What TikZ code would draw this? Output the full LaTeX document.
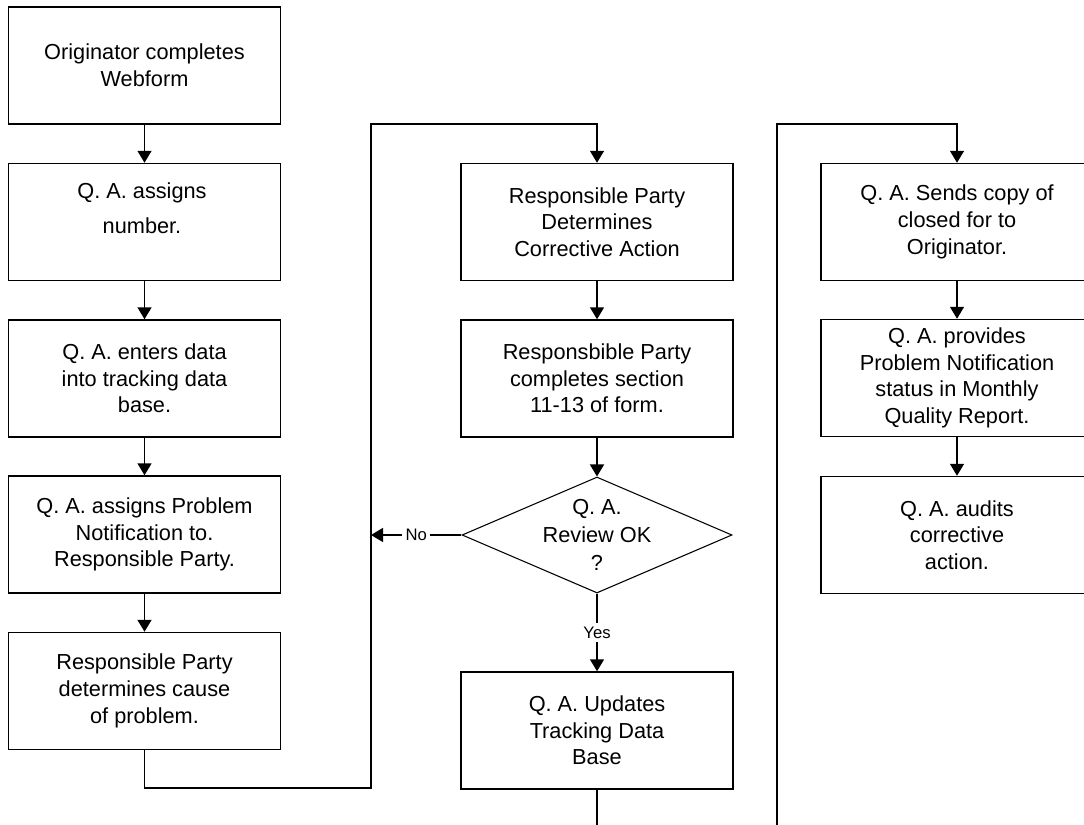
\documentclass[tikz,border=0pt]{standalone}
\usepackage{fontspec}
\setmainfont{Liberation Sans}
\usetikzlibrary{shapes.geometric,arrows.meta}
\tikzset{
  box/.style={draw, line width=1.1pt, minimum width=204pt, minimum height=87.75pt,
    inner sep=0pt, align=center, font=\fontsize{16.3}{20}\selectfont},
  txt/.style={inner sep=0pt, align=center},
  dia/.style={draw, line width=0.8pt, shape=diamond, minimum width=202.5pt,
    minimum height=87pt, inner sep=0pt},
  arr/.style={line width=1.1pt, line join=miter, -{Triangle[width=10.5pt,length=9pt]}},
  conn/.style={line width=1.1pt, line join=miter},
  lbl/.style={fill=white, inner sep=2.5pt, font=\fontsize{12.5}{15}\selectfont}
}
\begin{document}
\begin{tikzpicture}[x=0.75pt,y=-0.75pt]
\useasboundingbox (0,0) rectangle (1084,824);
\clip (0,0) rectangle (1084,824);

% left column
\node[box] (b1) at (144.5,65.5) {Originator completes\\Webform};
\node[box] (b2) at (144.5,222) {};
\node[txt, font=\fontsize{16.3}{26.5}\selectfont] (b2t) at (142,208) {Q. A. assigns\\number.};
\node[box] (b3) at (144.5,378.5) {Q. A. enters data\\into tracking data\\base.};
\node[box] (b4) at (144.5,534.5) {Q. A. assigns Problem\\Notification to.\\Responsible Party.};
\node[box] (b5) at (144.5,691) {Responsible Party\\determines cause\\of problem.};

% middle column
\node[box] (b6) at (597,222) {Responsible Party\\Determines\\Corrective Action};
\node[box] (b7) at (597,378.5) {Responsbible Party\\completes section\\11-13 of form.};
\node[dia] (d) at (597,535) {};
\node[txt, font=\fontsize{16.3}{21}\selectfont] (dt) at (597,535) {Q. A.\\Review OK\\?};
\node[box] (b8) at (597,730.5) {Q. A. Updates\\Tracking Data\\Base};

% right column
\node[box] (b9) at (957,222) {Q. A. Sends copy of\\closed for to\\Originator.};
\node[box] (b10) at (957,378) {Q. A. provides\\Problem Notification\\status in Monthly\\Quality Report.};
\node[box] (b11) at (957,535) {Q. A. audits\\corrective\\action.};

% helper coordinates
\coordinate (c1) at (144.5,788);
\coordinate (c2) at (371,788);
\coordinate (c3) at (371,124);
\coordinate (c4) at (597,124);
\coordinate (c5) at (371,535);
\coordinate (c6) at (597,834);
\coordinate (c7) at (777,834);
\coordinate (c8) at (777,124);
\coordinate (c9) at (957,124);

% connectors
\draw[arr] (b1.south) -- (b2.north);
\draw[arr] (b2.south) -- (b3.north);
\draw[arr] (b3.south) -- (b4.north);
\draw[arr] (b4.south) -- (b5.north);
\draw[arr] (b5.south) -- (c1) -- (c2) -- (c3) -- (c4) -- (b6.north);
\draw[arr] (b6.south) -- (b7.north);
\draw[arr] (b7.south) -- (d.north);
\draw[arr] (d.west) -- node[lbl] {No} (c5);
\draw[arr] (d.south) -- node[lbl] {Yes} (b8.north);
\draw[conn] (b8.south) -- (c6);
\draw[arr] (c7) -- (c8) -- (c9) -- (b9.north);
\draw[arr] (b9.south) -- (b10.north);
\draw[arr] (b10.south) -- (b11.north);
\end{tikzpicture}
\end{document}
